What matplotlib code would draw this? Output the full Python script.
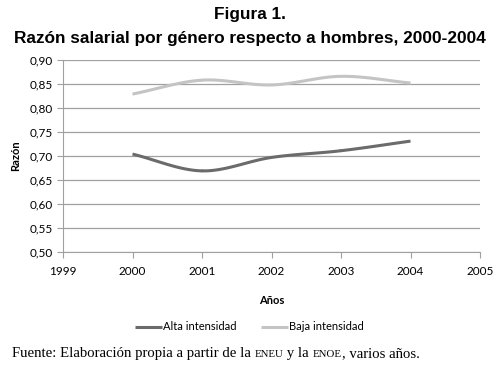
import numpy as np
import matplotlib
matplotlib.use("Agg")
import matplotlib.pyplot as plt

# données
anios = [2000, 2001, 2002, 2003, 2004]
alta = [0.704, 0.669, 0.697, 0.711, 0.731]
baja = [0.829, 0.858, 0.848, 0.866, 0.852]
series = ["Alta intensidad", "Baja intensidad"]
xticks = [1999, 2000, 2001, 2002, 2003, 2004, 2005]
yticks = [0.50, 0.55, 0.60, 0.65, 0.70, 0.75, 0.80, 0.85, 0.90]


def lissage(x, y, n=30):
    # courbe lissée type Excel (Catmull-Rom)
    x = np.asarray(x, float)
    y = np.asarray(y, float)
    px = np.concatenate([[2 * x[0] - x[1]], x, [2 * x[-1] - x[-2]]])
    py = np.concatenate([[2 * y[0] - y[1]], y, [2 * y[-1] - y[-2]]])
    xs, ys = [], []
    t = np.linspace(0, 1, n)
    for i in range(1, len(px) - 2):
        for p, out in ((px, xs), (py, ys)):
            p0, p1, p2, p3 = p[i - 1], p[i], p[i + 1], p[i + 2]
            out.extend(0.5 * ((2 * p1) + (-p0 + p2) * t
                              + (2 * p0 - 5 * p1 + 4 * p2 - p3) * t ** 2
                              + (-p0 + 3 * p1 - 3 * p2 + p3) * t ** 3))
    return xs, ys


fig = plt.figure(figsize=(4.99, 3.73), dpi=100)
ax = fig.add_axes([63 / 499, 1 - 252 / 373, (480 - 63) / 499, (252 - 60) / 373])

xa, ya = lissage(anios, alta)
xb, yb = lissage(anios, baja)
ax.plot(xa, ya, color="#6b6b6b", lw=2.2, label=series[0], solid_capstyle="butt")
ax.plot(xb, yb, color="#c4c4c4", lw=2.2, label=series[1], solid_capstyle="butt")

ax.set_xlim(1999, 2005)
ax.set_ylim(0.5, 0.9)
ax.set_xticks(xticks)
ax.set_yticks(yticks)
ax.set_yticklabels([f"{v:.2f}".replace(".", ",") for v in yticks])
ax.grid(axis="y", color="#a0a0a0", lw=0.9)
ax.set_axisbelow(True)
for s in ["top", "right"]:
    ax.spines[s].set_visible(False)
ax.spines["left"].set_color("#a0a0a0")
ax.spines["bottom"].set_color("#a0a0a0")
ax.tick_params(axis="both", colors="#a0a0a0", labelcolor="black", labelsize=8.5, length=4)
ax.tick_params(axis="x", pad=6)
for lab in ax.get_xticklabels() + ax.get_yticklabels():
    lab.set_family("Lato")

ax.set_xlabel("Años", fontsize=8, fontweight="bold", family="Lato", labelpad=13)
ax.set_ylabel("Razón", fontsize=8, fontweight="bold", family="Lato", labelpad=6)

fig.text(0.5, 1 - 14 / 373, "Figura 1.", ha="center", va="center",
         fontsize=12.4, fontweight="bold", family="Liberation Sans")
fig.text(0.5, 1 - 38 / 373, "Razón salarial por género respecto a hombres, 2000-2004",
         ha="center", va="center", fontsize=12.4, fontweight="bold", family="Liberation Sans")

fig.legend(loc="center", bbox_to_anchor=(0.5, 1 - 327 / 373), ncol=2, frameon=False,
           prop={"family": "Lato", "size": 8}, handlelength=2.4, handletextpad=0.1,
           columnspacing=2.2)

# note de source (petites capitales pour ENEU et ENOE)
morceaux = [("Fuente: Elaboración propia a partir de la ", 10.6),
            ("ENEU", 7.8), (" y la ", 10.6), ("ENOE", 7.8), (", varios años.", 10.6)]
renderer = fig.canvas.get_renderer()
x0 = 12 / 499
y0 = 1 - 357 / 373
for txt, taille in morceaux:
    t = fig.text(x0, y0, txt, fontsize=taille, family="Liberation Serif", va="baseline")
    bb = t.get_window_extent(renderer=renderer)
    x0 += bb.width / fig.bbox.width

fig.savefig("out.png", dpi=100)
